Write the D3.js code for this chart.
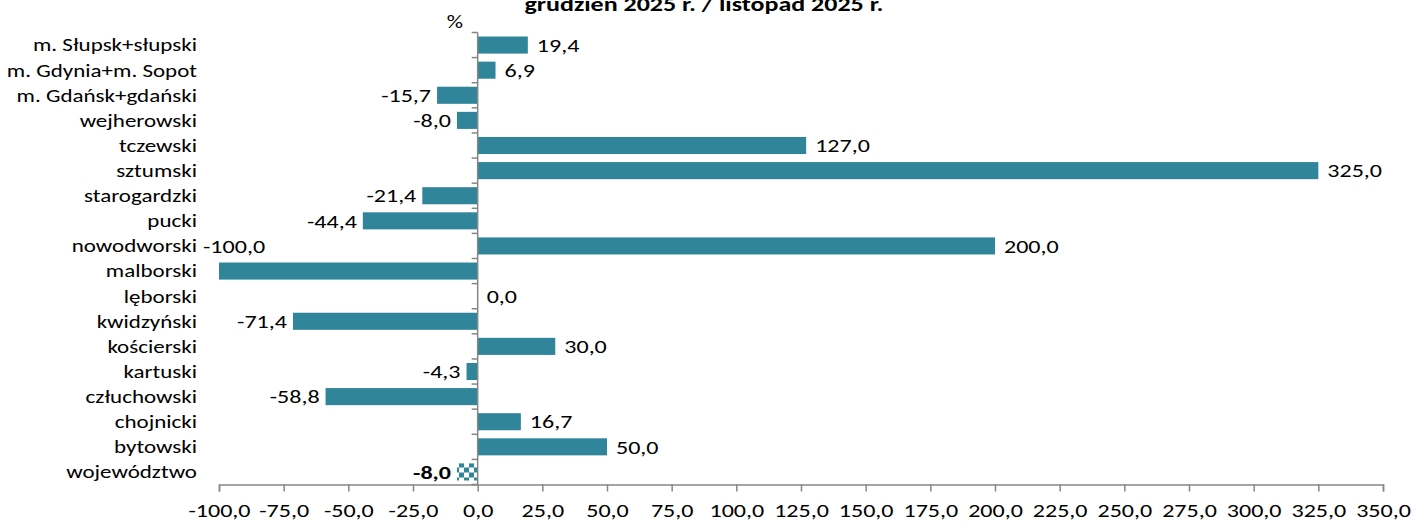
<!DOCTYPE html>
<html>
<head>
<meta charset="utf-8">
<script src="https://cdn.jsdelivr.net/npm/d3@7"></script>
<style>
  body { margin: 0; background: #fff; }
  svg text { font-family: Carlito, Lato, "Open Sans", sans-serif; fill: #000; }
</style>
</head>
<body>
<div id="chart"></div>
<script>
// data (top to bottom as in chart)
const categories = ["m. Słupsk+słupski", "m. Gdynia+m. Sopot", "m. Gdańsk+gdański", "wejherowski",
  "tczewski", "sztumski", "starogardzki", "pucki", "nowodworski", "malborski", "lęborski",
  "kwidzyński", "kościerski", "kartuski", "człuchowski", "chojnicki", "bytowski", "województwo"];
const values = [19.4, 6.9, -15.7, -8.0, 127.0, 325.0, -21.4, -44.4, 200.0, -100.0, 0.0,
  -71.4, 30.0, -4.3, -58.8, 16.7, 50.0, -8.0];
const xTicks = [-100, -75, -50, -25, 0, 25, 50, 75, 100, 125, 150, 175, 200, 225, 250, 275, 300, 325, 350];
const title = "grudzień 2025 r. / listopad 2025 r.";

const W = 1412, H = 526;
const margin = {top: 32.5, right: 29, bottom: 41.5, left: 219};
const width = W - margin.left - margin.right;
const height = H - margin.top - margin.bottom;
const SX = 1.3; // the original text looks stretched sideways

const locale = d3.formatLocale({decimal: ",", thousands: " ", grouping: [3], currency: ["", ""], minus: "-"});
const fmt = locale.format(".1f");

// move x/y into a transform so the text can be widened
function stretch(sel) {
    sel.each(function() {
        const t = d3.select(this);
        const tx = +t.attr("x") || 0, ty = +t.attr("y") || 0;
        t.attr("transform", `translate(${tx},${ty}) scale(${SX},1)`).attr("x", 0).attr("y", 0);
    });
}

const x = d3.scaleLinear().domain([-100, 350]).range([0, width]);
const y = d3.scaleBand().domain(categories).range([0, height]).paddingInner(0.32).paddingOuter(0.16);

const svg = d3.select("#chart").append("svg")
    .attr("width", W)
    .attr("height", H);

// checker pattern for the total bar
const defs = svg.append("defs");
const pat = defs.append("pattern")
    .attr("id", "checker")
    .attr("width", 10).attr("height", 10)
    .attr("patternUnits", "userSpaceOnUse");
pat.append("rect").attr("width", 10).attr("height", 10).attr("fill", "#fff");
pat.append("rect").attr("width", 5).attr("height", 5).attr("fill", "#31859b");
pat.append("rect").attr("x", 5).attr("y", 5).attr("width", 5).attr("height", 5).attr("fill", "#31859b");

// title (cut off at the top in the original)
svg.append("text")
    .attr("x", 704).attr("y", 11)
    .attr("text-anchor", "middle")
    .attr("font-size", 20).attr("font-weight", "bold")
    .text(title)
    .call(stretch);

svg.append("text")
    .attr("x", 455).attr("y", 28)
    .attr("text-anchor", "middle")
    .attr("font-size", 17.5)
    .text("%")
    .call(stretch);

const g = svg.append("g")
    .attr("transform", `translate(${margin.left},${margin.top})`);

// bars
g.selectAll("rect.bar")
    .data(categories)
    .join("rect")
    .attr("class", "bar")
    .attr("x", (d, i) => x(Math.min(0, values[i])))
    .attr("width", (d, i) => Math.abs(x(values[i]) - x(0)))
    .attr("y", d => y(d))
    .attr("height", y.bandwidth())
    .attr("fill", (d, i) => d == "województwo" ? "url(#checker)" : "#31859b");

// x axis
const xAxis = d3.axisBottom(x)
    .tickValues(xTicks)
    .tickSize(7)
    .tickSizeOuter(7)
    .tickPadding(12.5)
    .tickFormat(fmt);
const gx = g.append("g")
    .attr("transform", `translate(0,${height})`)
    .call(xAxis);
gx.select(".domain").attr("stroke", "#868686").attr("stroke-width", 1.5);
gx.selectAll(".tick line").attr("stroke", "#868686").attr("stroke-width", 1.5);
gx.selectAll(".tick text")
    .attr("font-size", 18.5)
    .attr("font-family", "Carlito, Lato, sans-serif")
    .call(stretch);

// y axis at zero with ticks at category boundaries
const step = y.step();
const bounds = d3.range(categories.length + 1).map(i => i * step);
const gy = g.append("g").attr("transform", `translate(${x(0)},0)`);
gy.append("line")
    .attr("y1", 0).attr("y2", height)
    .attr("stroke", "#868686").attr("stroke-width", 1.5);
gy.selectAll("line.yt")
    .data(bounds)
    .join("line")
    .attr("class", "yt")
    .attr("x1", -6).attr("x2", 0)
    .attr("y1", d => d).attr("y2", d => d)
    .attr("stroke", "#868686").attr("stroke-width", 1.5);

// category labels
g.selectAll("text.cat")
    .data(categories)
    .join("text")
    .attr("class", "cat")
    .attr("x", -22)
    .attr("y", d => y(d) + y.bandwidth() / 2)
    .attr("dy", "0.36em")
    .attr("text-anchor", "end")
    .attr("font-size", 17.7)
    .text(d => d)
    .call(stretch);

// value labels (malborski label sits one row up, right of its category name)
g.selectAll("text.val")
    .data(categories)
    .join("text")
    .attr("class", "val")
    .attr("x", (d, i) => d == "malborski" ? x(values[i]) - 16 : values[i] >= 0 ? x(values[i]) + 9 : x(values[i]) - 6)
    .attr("y", (d, i) => y(d) + y.bandwidth() / 2 + (d == "malborski" ? -step : 0))
    .attr("dy", "0.36em")
    .attr("text-anchor", (d, i) => d == "malborski" || values[i] >= 0 ? "start" : "end")
    .attr("font-size", 18.5)
    .attr("font-weight", d => d == "województwo" ? "bold" : "normal")
    .text((d, i) => fmt(values[i]))
    .call(stretch);
</script>
</body>
</html>
